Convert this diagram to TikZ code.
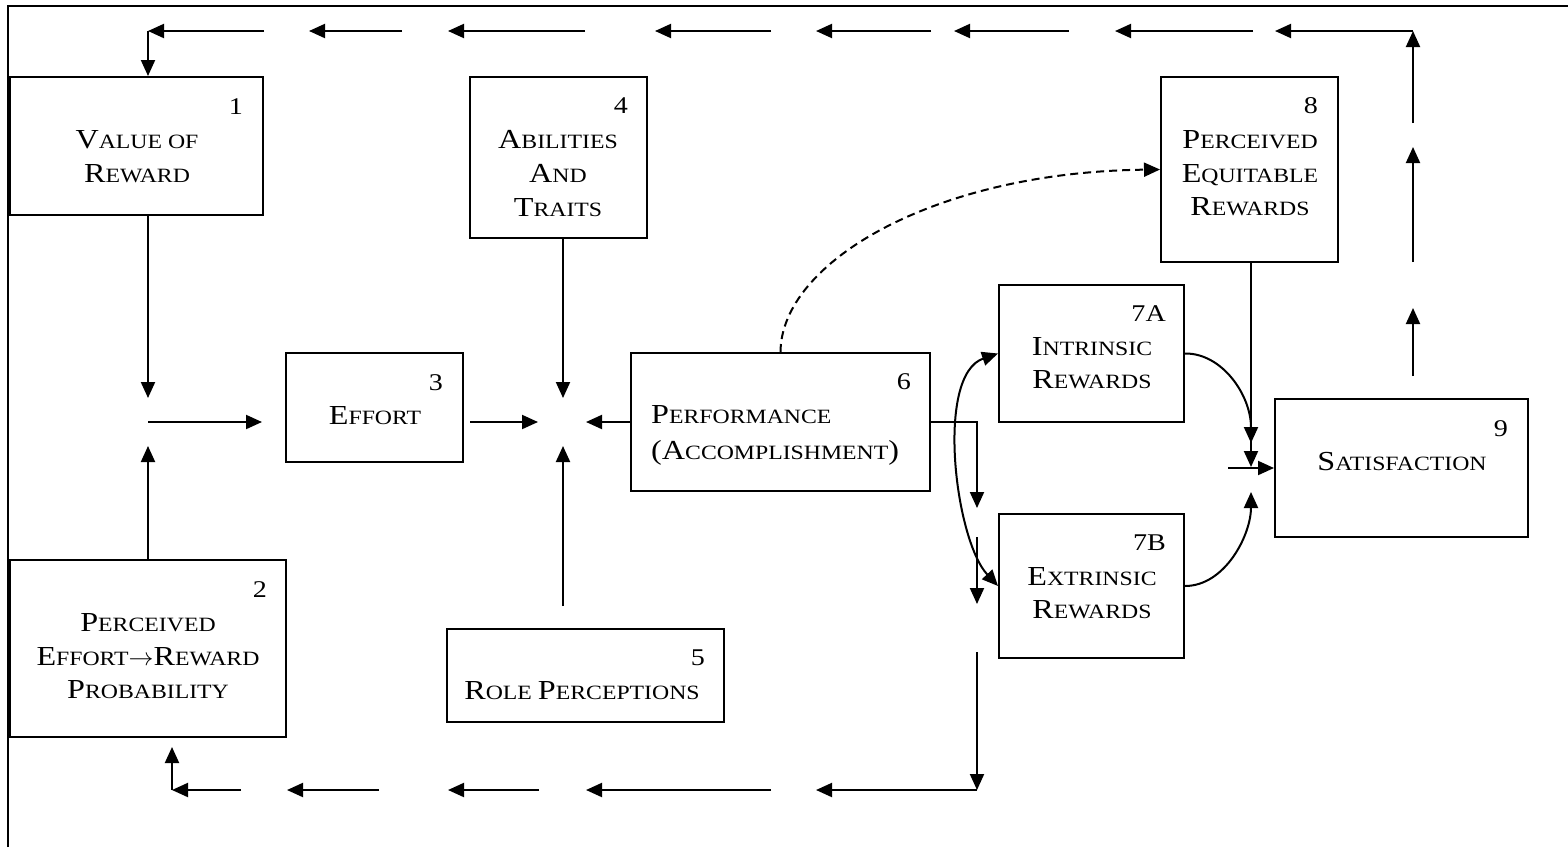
\documentclass[tikz,border=0pt]{standalone}
\usepackage{fontspec}
\setmainfont[FakeStretch=1.17]{Liberation Serif}
\usetikzlibrary{arrows.meta}
\newcommand\C[1]{{\fontsize{27.5}{30}\selectfont #1}}
\newcommand\boxnode[5]{\node[box,minimum width={#4-#2},minimum height={#5-#3}] (#1) at ({(#2+#4)/2},{(#3+#5)/2}) {};}
\begin{document}
\begin{tikzpicture}[x=1pt,y=-1pt,
  box/.style={draw,line width=2pt,inner sep=0pt},
  lbl/.style={inner sep=0pt,anchor=base,font=\fontsize{20.3}{24}\selectfont},
  lblw/.style={inner sep=0pt,anchor=base west,font=\fontsize{20.3}{24}\selectfont},
  num/.style={inner sep=0pt,anchor=base east,font=\fontsize{24}{28}\selectfont},
  ln/.style={line width=2pt},
  arr/.style={line width=2pt,-{Triangle[length=16pt,width=14pt]}},
  darr/.style={line width=2pt,{Triangle[length=16pt,width=14pt]}-{Triangle[length=16pt,width=14pt]}}]
\useasboundingbox (0,0) rectangle (1568,847);
\draw[ln] (8,847) -- (8,6) -- (1568,6);
% boxes
\boxnode{b1}{10}{77}{263}{215}
\boxnode{b2}{10}{560}{286}{737}
\boxnode{b3}{286}{353}{463}{462}
\boxnode{b4}{470}{77}{647}{238}
\boxnode{b5}{447}{629}{724}{722}
\boxnode{b6}{631}{353}{930}{491}
\boxnode{b7a}{999}{285}{1184}{422}
\boxnode{b7b}{999}{514}{1184}{658}
\boxnode{b8}{1161}{77}{1338}{262}
\boxnode{b9}{1275}{399}{1528}{537}
% numbers
\node[num] (n1) at (243,114) {1};
\node[num] (n2) at (267,597) {2};
\node[num] (n3) at (443,390) {3};
\node[num] (n4) at (628,113) {4};
\node[num] (n5) at (705,665) {5};
\node[num] (n6) at (911,389) {6};
\node[num] (n7a) at (1166,321) {7A};
\node[num] (n7b) at (1166,550) {7B};
\node[num] (n8) at (1318,113) {8};
\node[num] (n9) at (1508,436) {9};
% texts
\node[lbl] (t1a) at (137,148) {\C{V}ALUE OF};
\node[lbl] (t1b) at (137,182) {\C{R}EWARD};
\node[lbl] (t2a) at (148,631) {\C{P}ERCEIVED};
\node[lbl] (t2b) at (148,665) {\C{E}FFORT{\fontsize{27}{30}\selectfont$\rightarrow$}\C{R}EWARD};
\node[lbl] (t2c) at (148,698) {\C{P}ROBABILITY};
\node[lbl] (t3a) at (375,424) {\C{E}FFORT};
\node[lbl] (t4a) at (558,148) {\C{A}BILITIES};
\node[lbl] (t4b) at (558,182) {\C{A}ND};
\node[lbl] (t4c) at (558,216) {\C{T}RAITS};
\node[lbl] (t5a) at (582,699) {\C{R}OLE \C{P}ERCEPTIONS};
\node[lblw] (t6a) at (651,423) {\C{P}ERFORMANCE};
\node[lblw] (t6b) at (651,459) {\C{(A}CCOMPLISHMENT\C{)}};
\node[lbl] (t7aa) at (1092,355) {\C{I}NTRINSIC};
\node[lbl] (t7ab) at (1092,388) {\C{R}EWARDS};
\node[lbl] (t7ba) at (1092,585) {\C{E}XTRINSIC};
\node[lbl] (t7bb) at (1092,618) {\C{R}EWARDS};
\node[lbl] (t8a) at (1250,148) {\C{P}ERCEIVED};
\node[lbl] (t8b) at (1250,182) {\C{E}QUITABLE};
\node[lbl] (t8c) at (1250,215) {\C{R}EWARDS};
\node[lbl] (t9a) at (1402,470) {\C{S}ATISFACTION};
% junction coordinates
\coordinate (jLs) at (148,422);
\coordinate (jLt) at (148,398);
\coordinate (jLb) at (148,446);
\coordinate (jM) at (563,422);
\coordinate (jMt) at (563,398);
\coordinate (jMb) at (563,446);
% left cluster
\draw[arr] (b1.south -| jLt) -- (jLt);
\draw[arr] (b2.north -| jLb) -- (jLb);
\draw[arr,shorten >=23pt] (jLs) -- (b3.west |- jLs);
\draw[arr,shorten <=6pt,shorten >=25pt] (b3.east |- jM) -- (jM);
\draw[arr] (b4.south -| jMt) -- (jMt);
\draw[arr,shorten <=22pt] (b5.north -| jMb) -- (jMb);
\draw[arr,shorten >=23pt] (b6.west |- jM) -- (jM);
% performance to rewards / feedback
\coordinate (cR1) at (977,422);
\coordinate (cR2) at (977,508);
\coordinate (cR3) at (977,537);
\coordinate (cR4) at (977,604);
\coordinate (cR5) at (977,652);
\coordinate (cBR) at (977,790);
\coordinate (cBL) at (172,790);
\draw[arr] (b6.east |- cR1) -- (cR1) -- (cR2);
\draw[arr] (cR3) -- (cR4);
\draw[arr] (cR5) -- (cBR);
\foreach \a/\b [count=\i] in {977/816, 771/586, 539/448, 379/287, 241/172}{
  \coordinate (bs\i) at (\a,790); \coordinate (be\i) at (\b,790);
  \draw[arr] (bs\i) -- (be\i);}
\draw[arr,shorten >=9pt] (cBL) -- (b2.south -| cBL);
% dashed
\draw[arr,dash pattern=on 8pt off 5pt] (b6.north) .. controls (781,262) and (935,172) .. (b8.west);
% rewards
\draw[darr] (b7a.west) .. controls (935,375) and (955,540) .. (b7b.west);
\coordinate (jS1) at (1251,443);
\coordinate (jS2) at (1251,467);
\coordinate (jS3) at (1251,492);
\coordinate (jS0) at (1228,468);
\draw[arr] (b7a.east) .. controls (1222,353) and (1251,395) .. (jS1);
\draw[arr] (b8.south -| jS2) -- (jS2);
\draw[arr] (b7b.east) .. controls (1225,586) and (1251,535) .. (jS3);
\draw[arr] (jS0) -- (b9.west |- jS0);
% right column & top
\coordinate (r1) at (1413,308);
\coordinate (r2) at (1413,262);
\coordinate (r3) at (1413,147);
\coordinate (r4) at (1413,123);
\coordinate (cTR) at (1413,31);
\coordinate (cTL) at (148,31);
\draw[arr,shorten <=22pt] (b9.north -| r1) -- (r1);
\draw[arr] (r2) -- (r3);
\draw[arr] (r4) -- (cTR);
\foreach \a/\b [count=\i] in {1413/1275, 1253/1115, 1069/954, 931/816, 771/655, 585/448, 402/309, 264/148}{
  \coordinate (ts\i) at (\a,31); \coordinate (te\i) at (\b,31);
  \draw[arr] (ts\i) -- (te\i);}
\draw[arr] (cTL) -- (b1.north -| cTL);
\end{tikzpicture}
\end{document}
